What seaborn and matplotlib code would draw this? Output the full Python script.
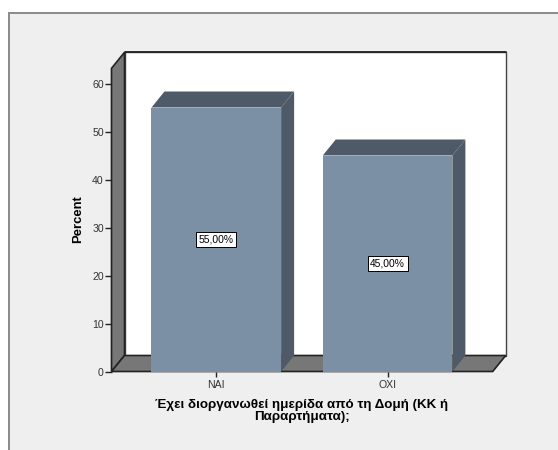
import matplotlib
matplotlib.use('Agg')
import matplotlib.pyplot as plt
from matplotlib.patches import Polygon, Rectangle
import pandas as pd
import seaborn as sns

categories = ['ΝΑΙ', 'ΟΧΙ']
percent = [55.0, 45.0]
bar_labels = ['55,00%', '45,00%']
y_ticks = [0, 10, 20, 30, 40, 50, 60]
x_title = 'Έχει διοργανωθεί ημερίδα από τη Δομή (ΚΚ ή\nΠαραρτήματα);'
y_title = 'Percent'

W, H = 558, 450
BG = '#efefef'
FRONT = '#7b90a5'
DARK = '#4e5a67'
WALL = '#777777'

sns.set_style('white')
plt.rcParams['font.family'] = ['Liberation Sans', 'DejaVu Sans']

fig = plt.figure(figsize=(W / 100, H / 100), dpi=100, facecolor='white')
# grey panel behind the chart, runs off the right and bottom of the picture
fig.add_artist(Rectangle((8.5 / W, -0.02), 1.02, 1.02 - 12.5 / H, transform=fig.transFigure,
                         facecolor=BG, edgecolor='#8a8a8a', lw=1.4, zorder=-1))

# front plane of the 3d box in pixels
left, right, top, bottom = 111.5, 492.7, 68.3, 371.5
ax = fig.add_axes([left / W, 1 - bottom / H, (right - left) / W, (bottom - top) / H])

df = pd.DataFrame({'cat': categories, 'pct': percent})
sns.barplot(data=df, x='cat', y='pct', color=FRONT, saturation=1, width=0.757, ax=ax, zorder=5)
ax.patch.set_alpha(0)

ax.set_xlim(-0.612, 1.614)
ax.set_ylim(0, (bottom - top) / 4.8)

# depth of the box, in data units
dx = 13 / 171.2
dy = 16 / 4.8
x0, x1 = ax.get_xlim()
y0, y1 = ax.get_ylim()

ax.add_patch(Polygon([(x0 + dx, y0 + dy), (x1 + dx, y0 + dy), (x1 + dx, y1 + dy), (x0 + dx, y1 + dy)],
                     facecolor='white', edgecolor='#444444', lw=1.0, clip_on=False, zorder=1))
ax.plot([x0 + dx, x1 + dx], [y1 + dy, y1 + dy], color='#222222', lw=1.3, clip_on=False, zorder=1.5)
ax.add_patch(Polygon([(x0, y0), (x0 + dx, y0 + dy), (x0 + dx, y1 + dy), (x0, y1)],
                     facecolor=WALL, edgecolor='#222222', lw=1.2, clip_on=False, zorder=2))
ax.add_patch(Polygon([(x0, y0), (x1, y0), (x1 + dx, y0 + dy), (x0 + dx, y0 + dy)],
                     facecolor=WALL, edgecolor='#222222', lw=1.2, clip_on=False, zorder=2))

for bar, label in zip(ax.patches[:len(percent)], bar_labels):
    bx, bw, bh = bar.get_x(), bar.get_width(), bar.get_height()
    bar.set_edgecolor('none')
    ax.add_patch(Polygon([(bx, bh), (bx + dx, bh + dy), (bx + bw + dx, bh + dy), (bx + bw, bh)],
                         facecolor=DARK, edgecolor='none', clip_on=False, zorder=4))
    ax.add_patch(Polygon([(bx + bw, 0), (bx + bw + dx, dy), (bx + bw + dx, bh + dy), (bx + bw, bh)],
                         facecolor=DARK, edgecolor='none', clip_on=False, zorder=4))
    ax.text(bx + bw / 2, bh / 2, label, ha='center', va='center', fontsize=7.4, color='black', zorder=6,
            bbox=dict(boxstyle='square,pad=0.25', facecolor='white', edgecolor='black', lw=0.7))

sns.despine(ax=ax, top=True, right=True, left=True, bottom=True)
ax.set_yticks(y_ticks)
ax.tick_params(axis='y', left=True, length=5, width=1, color='#222222', labelsize=7.6, labelcolor='#333333', pad=0.5)
ax.tick_params(axis='x', bottom=True, length=3.5, width=1, color='#222222', labelsize=7.6, labelcolor='#333333', pad=2.5)
ax.set_ylabel(y_title, fontsize=9.4, fontweight='bold', color='black')
ax.yaxis.set_label_coords((84 - left) / (right - left), (bottom - 219) / (bottom - top))
ax.set_xlabel('')
fig.text(302 / W, 1 - 399 / H, x_title, ha='center', va='top', fontsize=9.6, fontweight='bold',
         linespacing=1.05, color='black')

fig.savefig('out.png', dpi=100, facecolor='white')
